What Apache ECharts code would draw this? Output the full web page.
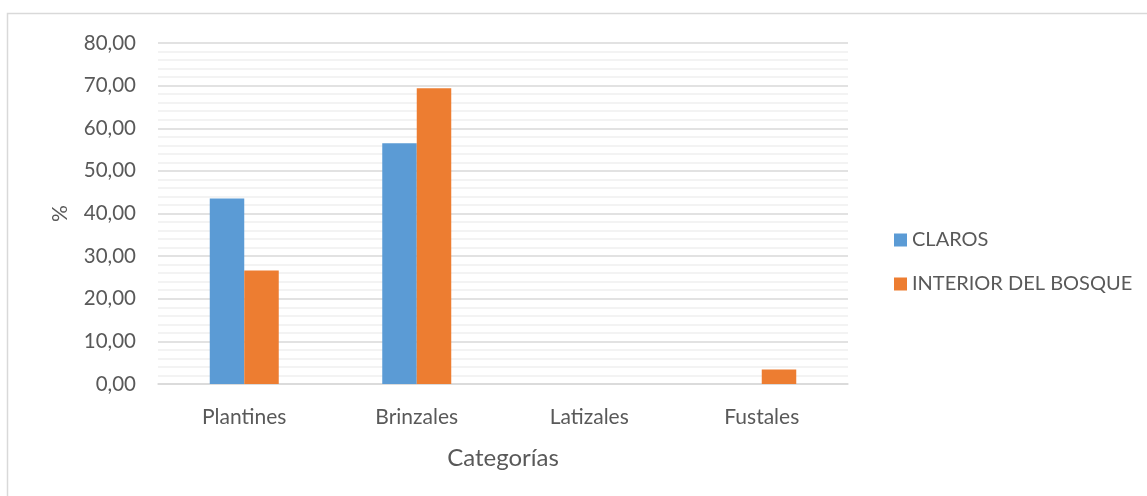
<!DOCTYPE html>
<html>
<head>
<meta charset="utf-8">
<script src="https://cdn.jsdelivr.net/npm/echarts@6/dist/echarts.min.js"></script>
<style>
  html, body { margin: 0; padding: 0; background: #fff; }
  #chart { width: 1147px; height: 496px; }
</style>
</head>
<body>
<div id="chart"></div>
<script>
  // datos
  const categorias = ['Plantines', 'Brinzales', 'Latizales', 'Fustales']
  const claros = [43.5, 56.5, 0, 0]
  const interior = [26.6, 69.4, 0, 3.4]
  const seriesNames = ['CLAROS', 'INTERIOR DEL BOSQUE']

  const fuente = 'Lato'
  const gris = '#595959'

  const chart = echarts.init(document.getElementById('chart'))

  const option = {
    animation: false,
    textStyle: { fontFamily: fuente },
    color: ['#5b9bd5', '#ed7d31'],
    graphic: [{
      type: 'rect',
      shape: { x: 7.5, y: 13.5, width: 1200, height: 600 },
      style: { fill: 'none', stroke: '#d9d9d9', lineWidth: 1.5 },
      silent: true
    }],
    legend: {
      orient: 'vertical',
      left: 889,
      top: 225,
      itemWidth: 13,
      itemHeight: 13,
      itemGap: 24,
      icon: 'rect',
      textStyle: { color: gris, fontSize: 20, fontFamily: fuente },
      data: seriesNames
    },
    grid: {
      left: 158,
      right: 299,
      top: 43,
      bottom: 112
    },
    xAxis: {
      type: 'category',
      data: categorias,
      name: 'Categorías',
      nameLocation: 'middle',
      nameGap: 62,
      nameTextStyle: { color: gris, fontSize: 24, fontFamily: fuente },
      axisLine: { lineStyle: { color: '#d9d9d9', width: 1.5 } },
      axisTick: { show: false },
      axisLabel: { color: gris, fontSize: 21, margin: 23, fontFamily: fuente }
    },
    yAxis: {
      type: 'value',
      min: 0,
      max: 80,
      interval: 10,
      name: '%',
      nameLocation: 'middle',
      nameGap: 87,
      nameRotate: 90,
      nameTextStyle: { color: gris, fontSize: 21, fontFamily: fuente },
      axisLine: { show: false },
      axisTick: { show: false },
      axisLabel: {
        color: gris,
        fontSize: 20.5,
        margin: 22,
        fontFamily: fuente,
        formatter: v => v.toFixed(2).replace('.', ',')
      },
      splitLine: { lineStyle: { color: '#d9d9d9', width: 1.5 } },
      minorTick: { show: false, splitNumber: 5 },
      minorSplitLine: { show: true, lineStyle: { color: '#f0f0f0', width: 1.5 } }
    },
    series: [
      {
        name: seriesNames[0],
        type: 'bar',
        data: claros,
        barGap: '0%',
        barCategoryGap: '60%'
      },
      {
        name: seriesNames[1],
        type: 'bar',
        data: interior,
        barGap: '0%',
        barCategoryGap: '60%'
      }
    ]
  }

  chart.setOption(option)
  window.onresize = () => {
    chart.resize()
  }
</script>
</body>
</html>
